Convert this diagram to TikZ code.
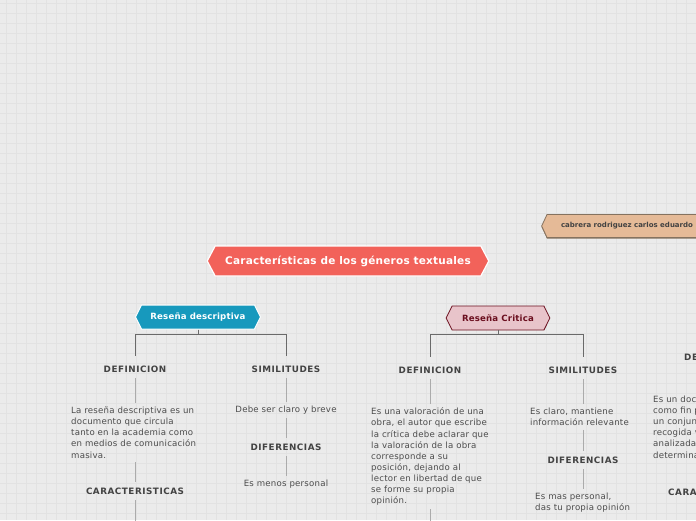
\documentclass[tikz,border=0pt]{standalone}
\usepackage{fontspec}
\setmainfont{DejaVu Sans}
\usetikzlibrary{shapes.symbols,shadows}
\definecolor{paper}{HTML}{EBEBEB}
\definecolor{gridcol}{HTML}{E2E2E2}
\definecolor{coral}{HTML}{F2625A}
\definecolor{descblue}{HTML}{1799BD}
\definecolor{critpink}{HTML}{E8C4CA}
\definecolor{critred}{HTML}{6B0F1F}
\definecolor{authortan}{HTML}{E5BA97}
\definecolor{authorline}{HTML}{85725F}
\definecolor{inkgray}{HTML}{4C4C4C}
\definecolor{headgray}{HTML}{424242}
\definecolor{branchgray}{HTML}{6A6A6A}
\definecolor{linkgray}{HTML}{ABABAB}
\tikzset{
  gridline/.style={draw=gridcol, line width=0.6pt},
  maintopic/.style={signal, signal to=west and east, signal pointer angle=124,
    fill=coral, draw=white, line width=1.2pt, text=white, minimum height=30pt,
    inner xsep=10pt, font=\fontsize{10.5}{12}\selectfont\bfseries\addfontfeature{LetterSpace=2}},
  subtopic/.style={signal, signal to=west and east, signal pointer angle=127,
    minimum height=24pt, inner xsep=9pt, font=\fontsize{8.6}{10}\selectfont\bfseries\addfontfeature{LetterSpace=2}},
  authorbox/.style={signal, signal to=west, signal pointer angle=130,
    fill=authortan, draw=authorline, line width=0.8pt, text=headgray,
    minimum height=23pt, inner xsep=14pt,
    drop shadow={shadow xshift=0pt, shadow yshift=-1.2pt, fill=authorline, opacity=1},
    font=\fontsize{7}{8}\selectfont\bfseries},
  heading/.style={inner sep=0pt, outer ysep=6pt, text=headgray,
    font=\fontsize{8.8}{10}\selectfont\bfseries\addfontfeature{LetterSpace=6}},
  body/.style={inner sep=0pt, outer ysep=4pt, text=inkgray, align=left,
    font=\fontsize{8.6}{11.1}\selectfont\addfontfeature{LetterSpace=2.5}},
  branch/.style={draw=branchgray, line width=1pt, shorten >=4pt},
  link/.style={draw=linkgray, line width=0.9pt},
}
\begin{document}
\begin{tikzpicture}[x=1pt, y=-1pt]
\useasboundingbox (0,0) rectangle (696,520);
\clip (0,0) rectangle (696,520);
\fill[paper] (0,0) rectangle (696,520);
% background grid
\foreach \gx in {6,16,...,696} \draw[gridline] (\gx,0) -- (\gx,520);
\foreach \gy in {3,13,...,513} \draw[gridline] (0,\gy) -- (696,\gy);

% main topics
\node[authorbox] (autor) at (627,226) {cabrera rodriguez carlos eduardo};
\node[maintopic] (title) at (348,261) {Características de los géneros textuales};
\node[subtopic, fill=descblue, draw=white, line width=1pt, text=white] (desc) at (198,317) {Reseña descriptiva};
\node[subtopic, fill=critpink, draw=critred, line width=0.8pt, text=critred, inner xsep=10pt] (crit) at (498,318) {Reseña Critica};

% Reseña descriptiva
\node[heading] (ddef) at (135,369) {DEFINICION};
\node[heading] (dsim) at (286,369) {SIMILITUDES};
\node[body, anchor=north west] (ddeftxt) at (71,403) {La reseña descriptiva es un\\documento que circula\\tanto en la academia como\\en medios de comunicación\\masiva.};
\node[heading] (dcar) at (135,491) {CARACTERISTICAS};
\coordinate (dcarnext) at (135,530);
\node[body] (dsimtxt) at (286,410) {Debe ser claro y breve};
\node[heading] (ddif) at (286,447) {DIFERENCIAS};
\node[body] (ddiftxt) at (286,484) {Es menos personal};

\draw[branch] (desc.south) -- ++(0,5) -| (ddef.north);
\draw[branch] (desc.south) -- ++(0,5) -| (dsim.north);
\draw[link] (ddef) -- (ddef |- ddeftxt.north);
\draw[link] (ddef |- ddeftxt.south) -- (dcar);
\draw[link] (dcar) -- (dcarnext);
\draw[link] (dsim) -- (dsimtxt);
\draw[link] (dsimtxt) -- (ddif);
\draw[link] (ddif) -- (ddiftxt);

% Reseña Critica
\node[heading] (cdef) at (430,370) {DEFINICION};
\node[heading] (csim) at (583,370) {SIMILITUDES};
\node[body, anchor=north west] (cdeftxt) at (371,404) {Es una valoración de una\\obra, el autor que escribe\\la crítica debe aclarar que\\la valoración de la obra\\corresponde a su\\posición, dejando al\\lector en libertad de que\\se forme su propia\\opinión.};
\coordinate (cdefnext) at (430,530);
\node[body, anchor=north west] (csimtxt) at (530,404) {Es claro, mantiene\\información relevante};
\node[heading] (cdif) at (583,460) {DIFERENCIAS};
\node[body, anchor=north west] (cdiftxt) at (535,489) {Es mas personal,\\das tu propia opinión};

\draw[branch] (crit.south) -- ++(0,4) -| (cdef.north);
\draw[branch] (crit.south) -- ++(0,4) -| (csim.north);
\draw[link] (cdef) -- (cdef |- cdeftxt.north);
\draw[link] (cdef |- cdeftxt.south) -- (cdefnext);
\draw[link] (csim) -- (csim |- csimtxt.north);
\draw[link] (csim |- csimtxt.south) -- (cdif);
\draw[link] (cdif) -- (cdif |- cdiftxt.north);

% third topic, cut at the edge
\node[heading, anchor=west] (xdef) at (684,357) {DEFINICION};
\node[body, anchor=north west] (xdeftxt) at (653,392) {Es un doc\\como fin p\\un conjun\\recogida v\\analizada\\determina};
\node[heading, anchor=west] (xcar) at (668,492) {CARACTERISTICAS};
\end{tikzpicture}
\end{document}
